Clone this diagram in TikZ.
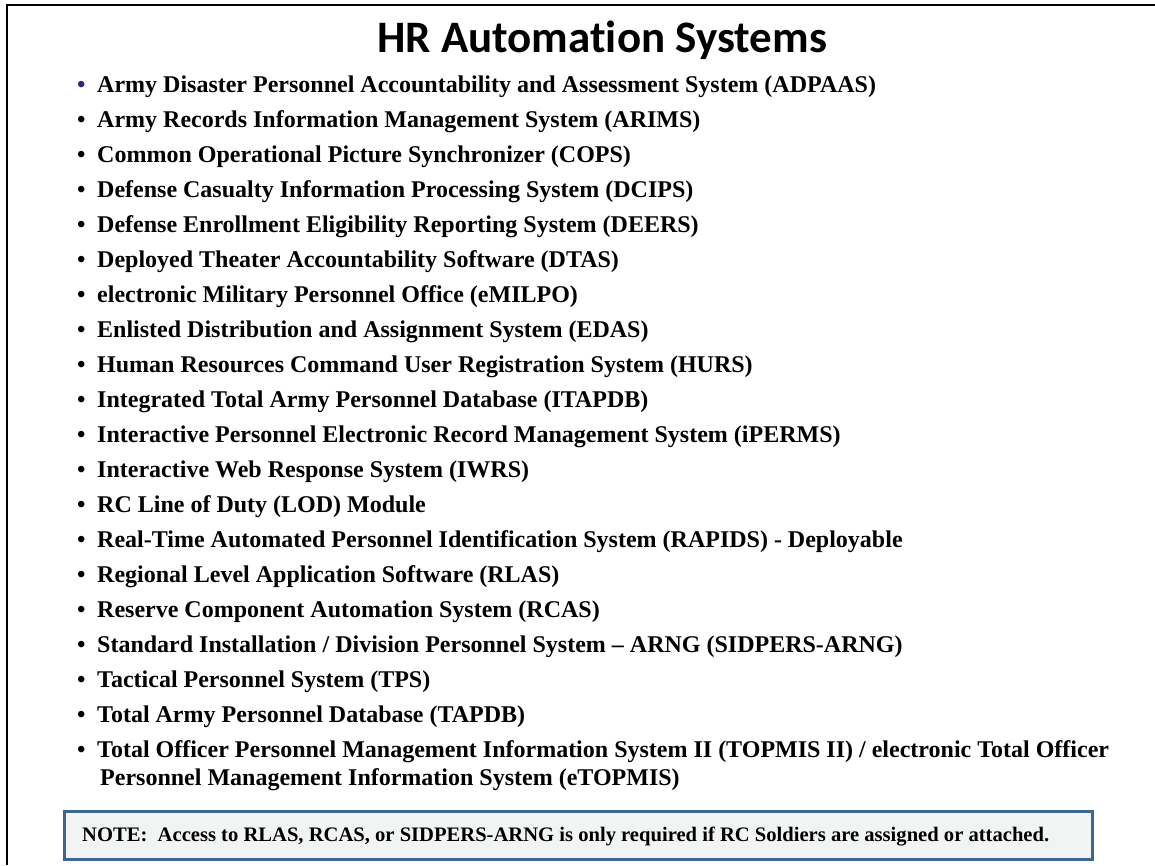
\documentclass[tikz,border=0pt]{standalone}
\usepackage{fontspec}
\setmainfont{Liberation Serif}
\newfontfamily\titlefont[Ligatures=NoCommon]{Carlito}
\definecolor{navybullet}{HTML}{2E2A6E}
\definecolor{notebd}{HTML}{3E6594}
\definecolor{notebg}{HTML}{F2F3F3}
\begin{document}
\begin{tikzpicture}[x=1pt,y=-1pt,
  itemtext/.style={anchor=base west, inner sep=0pt, font=\fontsize{24}{28}\selectfont\bfseries},
  bul/.style={anchor=base west, inner sep=0pt, font=\fontsize{24}{28}\selectfont\bfseries},
  notebox/.style={draw=notebd, line width=3pt, fill=notebg, inner sep=0pt},
  notetext/.style={anchor=base west, inner sep=0pt, font=\fontsize{20.6}{24}\selectfont\bfseries},
  frame/.style={line width=2pt, black}]
\useasboundingbox (0,0) rectangle (1155,865);
\fill[white] (0,0) rectangle (1155,865);
\draw[frame] (6.5,865) -- (6.5,5) -- (1155,5);
\node (title) [anchor=base, inner sep=0pt, font=\titlefont\bfseries\fontsize{45}{54}\selectfont] at (602,52) {HR Automation Systems};
\foreach \t [count=\i] in {
 {Army Disaster Personnel Accountability and Assessment System (ADPAAS)},
 {Army Records Information Management System (ARIMS)},
 {Common Operational Picture Synchronizer (COPS)},
 {Defense Casualty Information Processing System (DCIPS)},
 {Defense Enrollment Eligibility Reporting System (DEERS)},
 {Deployed Theater Accountability Software (DTAS)},
 {electronic Military Personnel Office (eMILPO)},
 {Enlisted Distribution and Assignment System (EDAS)},
 {Human Resources Command User Registration System (HURS)},
 {Integrated Total Army Personnel Database (ITAPDB)},
 {Interactive Personnel Electronic Record Management System (iPERMS)},
 {Interactive Web Response System (IWRS)},
 {RC Line of Duty (LOD) Module},
 {Real-Time Automated Personnel Identification System (RAPIDS) - Deployable},
 {Regional Level Application Software (RLAS)},
 {Reserve Component Automation System (RCAS)},
 {Standard Installation / Division Personnel System -- ARNG (SIDPERS-ARNG)},
 {Tactical Personnel System (TPS)},
 {Total Army Personnel Database (TAPDB)},
 {Total Officer Personnel Management Information System II (TOPMIS II) / electronic Total Officer}}
{
  \pgfmathsetmacro{\yy}{92+35.05*(\i-1)}
  \ifnum\i=1
    \node (b\i) [bul, text=navybullet] at (77,\yy) {\textbullet};
  \else
    \node (b\i) [bul] at (77,\yy) {\textbullet};
  \fi
  \node (t\i) [itemtext] at (97,\yy) {\t};
}
\node (t20b) [itemtext] at (100,785) {Personnel Management Information System (eTOPMIS)};
\node (notebox) [notebox, minimum width=1028pt, minimum height=48pt, anchor=north west] at (63,810) {};
\node (note) [notetext] at (82,841) {NOTE:\ \ Access to RLAS, RCAS, or SIDPERS-ARNG is only required if RC Soldiers are assigned or attached.};
\end{tikzpicture}
\end{document}
